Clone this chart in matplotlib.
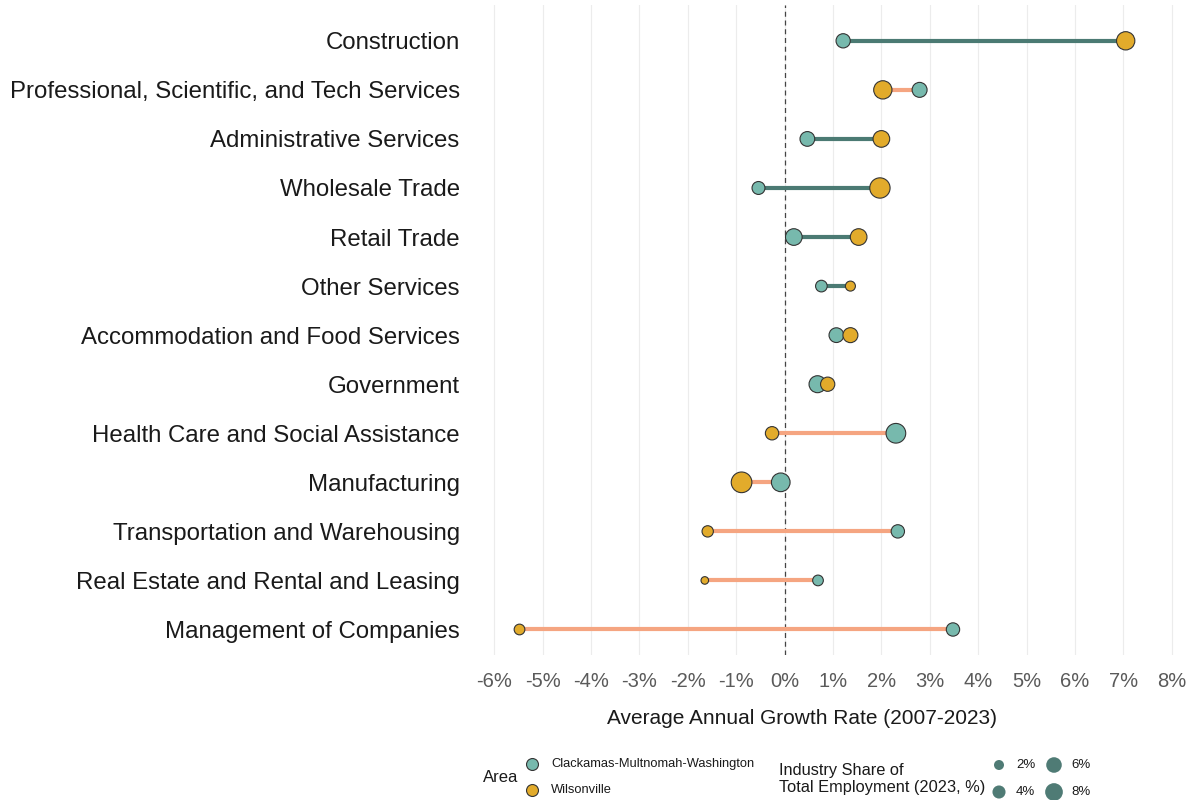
import numpy as np
import matplotlib.pyplot as plt

# industries, top to bottom
industries = [
    "Construction",
    "Professional, Scientific, and Tech Services",
    "Administrative Services",
    "Wholesale Trade",
    "Retail Trade",
    "Other Services",
    "Accommodation and Food Services",
    "Government",
    "Health Care and Social Assistance",
    "Manufacturing",
    "Transportation and Warehousing",
    "Real Estate and Rental and Leasing",
    "Management of Companies",
]

# average annual growth rate 2007-2023, %
region_growth = [1.21, 2.79, 0.47, -0.54, 0.19, 0.76, 1.07, 0.68, 2.30, -0.08, 2.34, 0.69, 3.48]
wilson_growth = [7.05, 2.03, 2.00, 1.97, 1.53, 1.36, 1.36, 0.89, -0.26, -0.89, -1.59, -1.65, -5.48]

# industry share of total employment 2023, %
region_share = [4.9, 5.5, 5.3, 3.9, 7.0, 3.0, 5.3, 7.3, 10.1, 9.0, 4.2, 2.4, 4.2]
wilson_share = [8.6, 8.6, 7.0, 10.8, 7.0, 2.0, 5.5, 4.9, 4.2, 11.2, 2.8, 0.8, 2.4]

area_labels = ["Clackamas-Multnomah-Washington", "Wilsonville"]
size_keys = [2, 4, 6, 8]
x_ticks = list(range(-6, 9))

TEAL = "#77b9ad"
GOLD = "#e2ab2b"
UP_LINE = "#4b7a73"
DOWN_LINE = "#f5a581"
KEY_COLOR = "#4f7b75"
FONT = ["Liberation Sans", "DejaVu Sans"]


def marker_area(share):
    # area in pt^2, linear in share like a ggplot size scale
    return 0.5184 * (29 + 35.5 * np.asarray(share))


fig = plt.figure(figsize=(11.97, 8.0), dpi=100)
W, H = 1197, 800
ax = fig.add_axes([475 / W, 1 - 655 / H, (1191 - 475) / W, 650 / H])

y = np.arange(len(industries))[::-1]

ax.axvline(0, color="#444444", lw=0.9, ls=(0, (4, 3)), zorder=1)
for yi, r, w in zip(y, region_growth, wilson_growth):
    col = UP_LINE if w > r else DOWN_LINE
    ax.plot([r, w], [yi, yi], color=col, lw=3, solid_capstyle="butt", zorder=2)

ax.scatter(region_growth, y, s=marker_area(region_share), c=TEAL,
           edgecolors="#333333", linewidths=0.8, zorder=3)
ax.scatter(wilson_growth, y, s=marker_area(wilson_share), c=GOLD,
           edgecolors="#333333", linewidths=0.8, zorder=4)

ax.set_xlim(-6.4, 8.4)
ax.set_ylim(-0.52, 12.73)
ax.set_xticks(x_ticks)
ax.set_xticklabels([f"{t}%" for t in x_ticks], fontsize=14.5, color="#5a5a5a",
                   family=FONT)
ax.set_yticks(y)
ax.set_yticklabels(industries, fontsize=17.3, color="#1a1a1a", family=FONT)
ax.tick_params(axis="both", length=0)
ax.tick_params(axis="y", pad=11)
ax.tick_params(axis="x", pad=12)
ax.grid(axis="x", color="#ececec", lw=0.8)
ax.set_axisbelow(True)
for sp in ax.spines.values():
    sp.set_visible(False)

# legend drawn in pixel coordinates on an overlay
lg = fig.add_axes([0, 0, 1, 1])
lg.set_xlim(0, W)
lg.set_ylim(H, 0)
lg.axis("off")

lg.text(802, 718, "Average Annual Growth Rate (2007-2023)", fontsize=15,
        ha="center", va="center", color="#1a1a1a", family=FONT)

lg.text(483, 778, "Area", fontsize=12, ha="left", va="center", color="#1a1a1a",
        family=FONT)
for yy, lab, col in zip([764, 790], area_labels, [TEAL, GOLD]):
    lg.scatter([532], [yy], s=marker_area(3.2), c=col, edgecolors="#333333",
               linewidths=0.8)
    lg.text(551, yy, lab, fontsize=9.3, ha="left", va="center", color="#1a1a1a",
            family=FONT)

lg.text(779, 779, "Industry Share of\nTotal Employment (2023, %)", fontsize=11.8,
        ha="left", va="center", color="#1a1a1a", linespacing=1.15, family=FONT)
key_pos = [(999, 765), (999, 792), (1054, 765), (1054, 792)]
for (kx, ky), k in zip(key_pos, size_keys):
    lg.scatter([kx], [ky], s=marker_area(k), c=KEY_COLOR, edgecolors="none")
    lg.text(kx + 17, ky, f"{k}%", fontsize=9.5, ha="left", va="center",
            color="#1a1a1a", family=FONT)

fig.savefig("out.png", dpi=100, facecolor="white")
